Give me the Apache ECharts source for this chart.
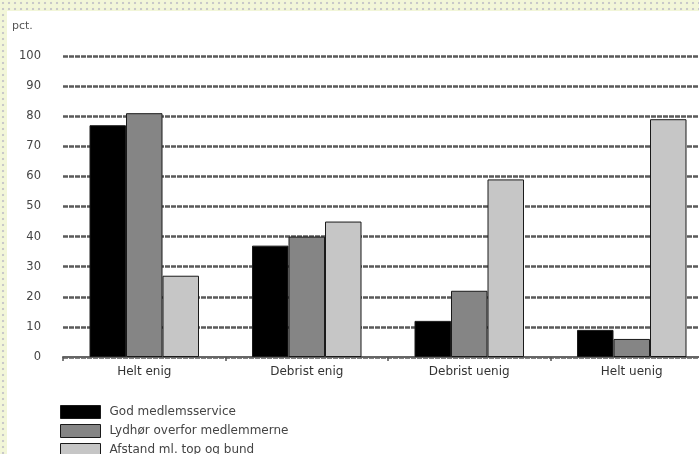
<!DOCTYPE html>
<html><head><meta charset="utf-8">
<script src="https://cdn.jsdelivr.net/npm/echarts@6/dist/echarts.min.js"></script>
<style>
html,body{margin:0;padding:0;width:699px;height:454px;overflow:hidden;}
body{background-color:#f2f6d8;background-image:radial-gradient(circle,#c9c9c9 1px,transparent 1.6px);background-size:6px 6px;position:relative;}
#paper{position:absolute;left:7px;top:11px;right:0;bottom:0;background:#fff;}
#chart{position:absolute;left:0;top:0;width:699px;height:454px;}
</style></head>
<body><div id="paper"></div><div id="chart"></div>
<script>
const categories = ['Helt enig', 'Debrist enig', 'Debrist uenig', 'Helt uenig'];
const seriesNames = ['God medlemsservice', 'Lydhør overfor medlemmerne', 'Afstand ml. top og bund'];
const godService = [77, 37, 12, 9];
const lydhor = [81, 40, 22, 6];
const afstand = [27, 45, 59, 79];
const yTicks = [0, 10, 20, 30, 40, 50, 60, 70, 80, 90, 100];
const colors = ['#000000', '#858585', '#c6c6c6'];

const chart = echarts.init(document.getElementById('chart'), null, {renderer: 'canvas'});
const font = 'DejaVu Sans';
const mk = (name, data, i) => ({
  name, type: 'bar', data, barWidth: 36.5, barGap: '0%',
  itemStyle: {color: colors[i], borderColor: '#1a1a1a', borderWidth: 1},
  emphasis: {disabled: true}
});
const leg = (i, top) => ({
  orient: 'vertical', left: 60, top, itemWidth: 40, itemHeight: 13, padding: 0,
  icon: 'rect', selectedMode: false,
  textStyle: {fontSize: 12, color: '#444', fontFamily: font, padding: [0, 0, 0, 4]},
  itemStyle: {borderColor: '#1a1a1a', borderWidth: 1},
  data: [seriesNames[i]]
});
chart.setOption({
  animation: false,
  backgroundColor: 'transparent',
  textStyle: {fontFamily: font},
  grid: {left: 63, width: 650, top: 56, bottom: 97, containLabel: false, outerBoundsMode: 'none'},
  graphic: [{type: 'text', left: 12, top: 21, style: {text: 'pct.', fontSize: 11, fill: '#555', fontFamily: font}}],
  legend: [leg(0, 405), leg(1, 424), leg(2, 443)],
  xAxis: {
    type: 'category', data: categories,
    axisLine: {lineStyle: {color: '#666', width: 2}},
    axisTick: {show: true, length: 4, lineStyle: {color: '#555', width: 1.5}},
    axisLabel: {fontSize: 12, color: '#333', margin: 9, fontFamily: font}
  },
  yAxis: {
    type: 'value', min: 0, max: 100, interval: 10,
    axisLine: {show: false}, axisTick: {show: false},
    axisLabel: {fontSize: 11.5, color: '#444', margin: 22, fontFamily: font,
      formatter: v => yTicks.includes(v) ? String(v) : ''},
    splitLine: {lineStyle: {color: '#5a5a5a', width: 2.5, type: [5, 1]}}
  },
  series: [mk(seriesNames[0], godService, 0), mk(seriesNames[1], lydhor, 1), mk(seriesNames[2], afstand, 2)]
});
</script></body></html>
